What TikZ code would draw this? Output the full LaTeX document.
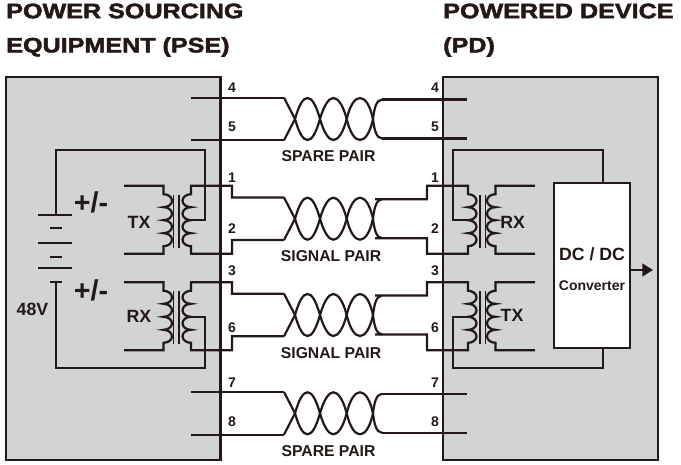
\documentclass[tikz,border=0pt]{standalone}
\usepackage{fontspec}
\usepackage{tikz}
\usetikzlibrary{arrows.meta}
\usetikzlibrary{positioning}
\setmainfont{Liberation Sans}
\newfontfamily\headfont[FakeBold=2.2,FakeStretch=1.2]{Liberation Sans Bold}
\definecolor{inkdark}{RGB}{35,24,21}
\definecolor{boxgray}{RGB}{209,211,212}
\tikzset{
  wire/.style={draw=inkdark,line width=1.65pt,line join=miter},
  thinwire/.style={draw=inkdark,line width=1.35pt},
  panel/.style={draw=inkdark,line width=1.7pt,fill=boxgray},
  headlabel/.style={anchor=west,inner sep=0pt,text=inkdark,font=\headfont\fontsize{15.7}{18}\selectfont},
  pinlabel/.style={inner sep=0pt,text=inkdark,font=\bfseries\fontsize{10.5}{12}\selectfont},
  pairlabel/.style={inner sep=0pt,text=inkdark,font=\bfseries\fontsize{11.8}{14}\selectfont},
  sidelabel/.style={inner sep=0pt,text=inkdark,font=\bfseries\fontsize{13.3}{15}\selectfont},
  pmlabel/.style={inner sep=0pt,text=inkdark,font=\bfseries\fontsize{21.5}{24}\selectfont}
}
\begin{document}
\begin{tikzpicture}[x=0.75pt,y=0.75pt,yscale=-1]
  \useasboundingbox (0,0) rectangle (681,464);

  % the two grey panels
  \draw [panel] (6,77) rectangle (220.5,460);
  \draw [panel] (443,77) rectangle (658,460);

  % headings
  \node [headlabel] (pseone) at (6,11) {POWER SOURCING};
  \node [headlabel] (psetwo) at (6,47) {EQUIPMENT (PSE)};
  \node [headlabel] (pdone) at (443,11) {POWERED DEVICE};
  \node [headlabel] (pdtwo) at (443,47) {(PD)};

  % twisted pairs
  \foreach \c in {119,218.7,315,413.3}
    \foreach \s in {1,-1}
      \draw [wire,shift={(0,\c)},yscale=\s] (284,-21.3) -- (295,0)
        .. controls (299,14) and (303,21) .. (307.5,21)
        .. controls (312,21) and (316,14) .. (320,0)
        .. controls (324,-14) and (329,-21) .. (333.3,-21)
        .. controls (338,-21) and (343,-14) .. (346.7,0)
        .. controls (350,14) and (355,21) .. (360,21)
        .. controls (365,21) and (370,14) .. (373,0)
        .. controls (374,-9) and (376,-19.5) .. (382,-19.5);

  % spare pairs run straight into the panels
  \foreach \c in {119,413.3}
    \foreach \s in {-1,1} {
      \draw [wire] (191,\c+\s*21.3) -- (284,\c+\s*21.3);
      \draw [wire] (382,\c+\s*19.5) -- (467,\c+\s*19.5);
    }

  % transformers, left side and mirrored on the right
  \foreach \m/\xs/\h in {0/1/21.3,659/-1/19.5}
    \foreach \t/\c in {185.7/218.7,282.3/315} {
      \begin{scope}[shift={(\m,0)},xscale=\xs]
        \draw [wire] (124,\t) -- (163.5,\t) -- (163.5,\t+8.5)
          arc (-90:90:8.5 and 6.5) arc (-90:90:8.5 and 6.5) arc (-90:90:8.5 and 6.5) arc (-90:90:8.5 and 6.5)
          -- (163.5,\t+68) -- (124,\t+68);
        \draw [thinwire] (173.5,\t+9) -- (173.5,\t+62);
        \draw [thinwire] (179.3,\t+9) -- (179.3,\t+62);
        \draw [wire] (\xs*\h*0+284,\c-\h) -- (232,\c-\h) -- (232,\t) -- (191,\t) -- (191,\t+8.5)
          arc (-90:-270:8.5 and 6.5) arc (-90:-270:8.5 and 6.5) arc (-90:-270:8.5 and 6.5) arc (-90:-270:8.5 and 6.5)
          -- (191,\t+68) -- (232,\t+68) -- (232,\c+\h) -- (284,\c+\h);
      \end{scope}
    }

  % battery
  \coordinate (batplus) at (56,215);
  \coordinate (batminus) at (56,282.3);
  \draw [wire] (38,215) -- (72,215);
  \draw [wire] (50,228) -- (62,228);
  \draw [wire] (38,243) -- (72,243);
  \draw [wire] (50,257) -- (62,257);
  \draw [wire] (38,268.3) -- (72,268.3);
  \draw [wire] (50,282.3) -- (62,282.3);

  % converter
  \node [draw=inkdark,line width=1.65pt,fill=white,minimum width=57.5pt,minimum height=123.75pt,outer sep=0pt,inner sep=0pt] (dcdc) at (592,265.8) {};
  \coordinate (dcin) at (603,0 |- dcdc.north);
  \coordinate (dcback) at (603,0 |- dcdc.south);
  \coordinate (dcout) at (dcdc.east |- 0,270);
  \coordinate (outtip) at (653,270);
  \draw [wire,-{Triangle[length=8pt,width=9.5pt]}] (dcout) -- (outtip);

  % feed lines
  \coordinate (ltapa) at (191,220.2);
  \coordinate (ltapb) at (191,316.8);
  \coordinate (rtapa) at (468,220.2);
  \coordinate (rtapb) at (468,316.8);
  \draw [wire] (batplus) |- (205,150) |- (ltapa);
  \draw [wire] (batminus) |- (205,367.7) |- (ltapb);
  \draw [wire] (rtapa) -| (452.7,150) -| (dcin);
  \draw [wire] (rtapb) -| (452.7,367.7) -| (dcback);

  % pin numbers
  \foreach \n/\y in {4/88,5/127,1/178,2/229,3/271,6/328,7/383,8/422} {
    \node [pinlabel] (lpin\n) at (232,\y) {\n};
    \node [pinlabel] (rpin\n) at (435,\y) {\n};
  }

  \node [pairlabel] (spareone) at (328.5,156) {SPARE PAIR};
  \node [pairlabel] (signalone) at (331,256) {SIGNAL PAIR};
  \node [pairlabel] (signaltwo) at (331,353) {SIGNAL PAIR};
  \node [pairlabel] (sparetwo) at (328.5,451) {SPARE PAIR};

  \node [pmlabel] (pmone) at (91,202.7) {+/-};
  \node [pmlabel] (pmtwo) at (91,290) {+/-};
  \node [sidelabel] (ltx) at (139,222.7) {TX};
  \node [sidelabel] (lrx) at (139,316) {RX};
  \node [sidelabel] (volts) at (32.5,309) {48V};
  \node [sidelabel] (rrx) at (512.7,222.7) {RX};
  \node [sidelabel] (rtx) at (512,315.7) {TX};
  \node [sidelabel] (dclabel) at (592,254.3) {DC / DC};
  \node [pinlabel] (convlabel) at (592,286) {Converter};
\end{tikzpicture}
\end{document}
